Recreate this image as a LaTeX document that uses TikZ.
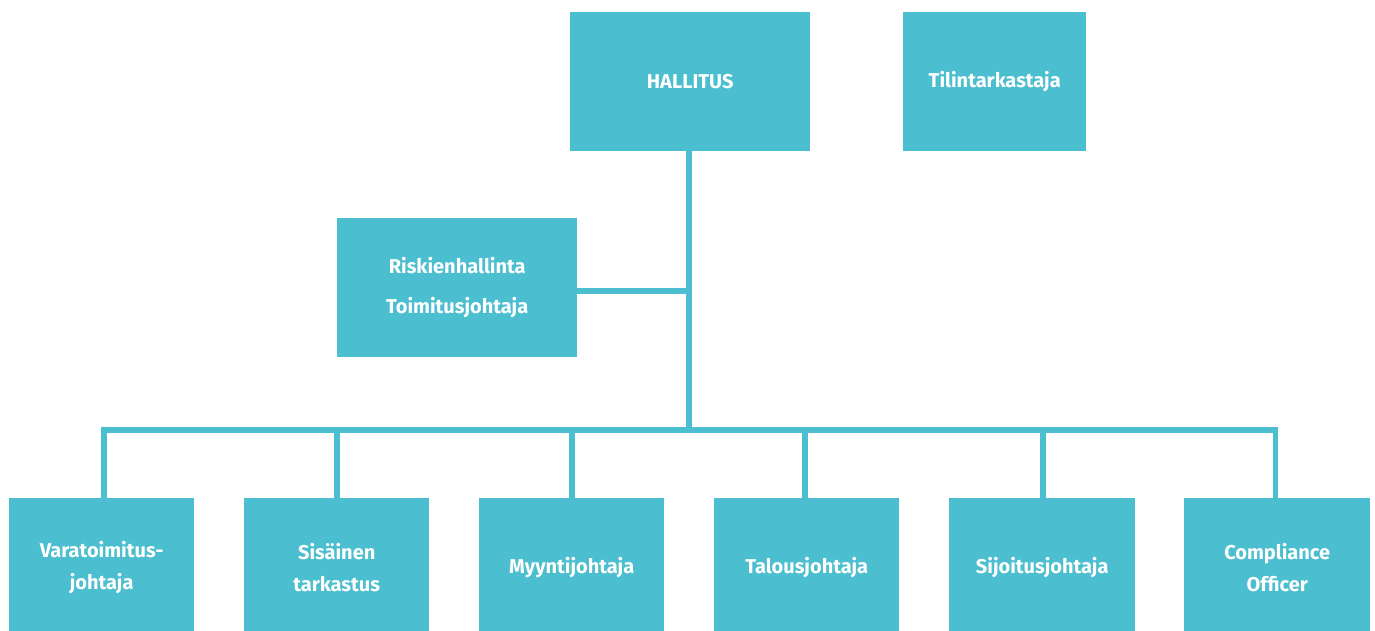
\documentclass[tikz,border=0pt]{standalone}
\usepackage{fontspec}
\setmainfont{Fira Sans}
\definecolor{teal}{HTML}{4BBECF}
\begin{document}
\begin{tikzpicture}[x=1pt,y=-1pt,
  box/.style={fill=teal,draw=none,text=white,font=\bfseries\fontsize{20}{32}\selectfont,align=center,anchor=north west,inner sep=0pt},
  conn/.style={draw=teal,line width=5.3pt}]
\useasboundingbox (0,0) rectangle (1375,630);
\node[box,minimum width=240pt,minimum height=139pt] (hall) at (570,12) {HALLITUS};
\node[box,minimum width=183pt,minimum height=139pt] (tili) at (903,12) {Tilintarkastaja};
\node[box,minimum width=240pt,minimum height=139pt,font=\bfseries\fontsize{20}{40}\selectfont] (risk) at (337,218) {Riskienhallinta\\Toimitusjohtaja};
\node[box,minimum width=185pt,minimum height=139pt] (b1) at (9,498) {Varatoimitus-\\johtaja};
\node[box,minimum width=185pt,minimum height=139pt] (b2) at (244,498) {Sisäinen\\tarkastus};
\node[box,minimum width=185pt,minimum height=139pt] (b3) at (479,498) {Myyntijohtaja};
\node[box,minimum width=185pt,minimum height=139pt] (b4) at (714,498) {Talousjohtaja};
\node[box,minimum width=186pt,minimum height=139pt] (b5) at (949,498) {Sijoitusjohtaja};
\node[box,minimum width=186pt,minimum height=139pt] (b6) at (1184,498) {Compliance\\Officer};
\coordinate (bus) at (689,430);
\coordinate (rj) at (689,291);
\draw[conn] (hall.south -| bus) -- (bus);
\draw[conn] (risk.east |- rj) -- (rj);
\draw[conn] (b1.north -| 104,0) -- (104,430) -- (1275.5,430) -- (b6.north -| 1275.5,0);
\draw[conn] (b2.north -| 337,0) -- (337,430);
\draw[conn] (b3.north -| 572,0) -- (572,430);
\draw[conn] (b4.north -| 805,0) -- (805,430);
\draw[conn] (b5.north -| 1043,0) -- (1043,430);
\end{tikzpicture}
\end{document}
